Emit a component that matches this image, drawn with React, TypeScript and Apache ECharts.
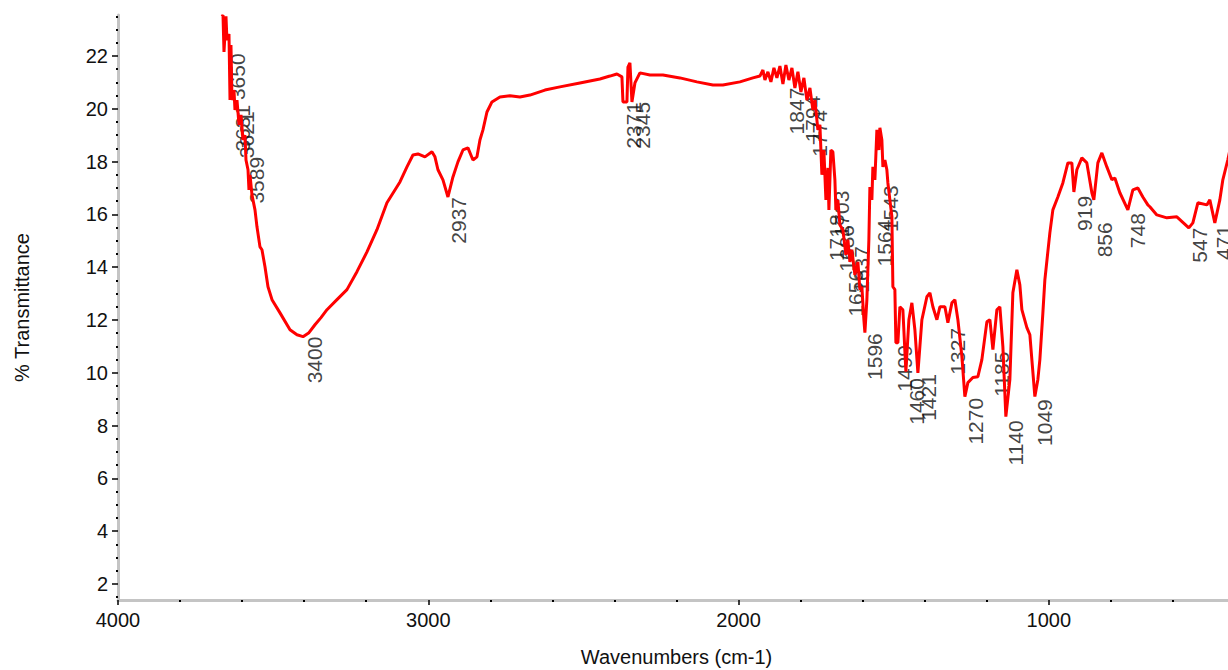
import React, { useEffect, useRef } from "react";
import * as echarts from "echarts";

// Spectrum trace: wavenumbers (cm-1) and % transmittance
const wavenumbers = [
  3665, 3661.6, 3658.4, 3652, 3648.8, 3642.3, 3639, 3635.9, 3632.6, 3626.2, 3623, 3616.5, 3610, 3603.6,
  3597.2, 3590.7, 3587.5, 3581, 3577.9, 3574.6, 3568.2, 3558.5, 3552.1, 3542.4, 3536, 3526.3, 3516.6,
  3503.7, 3477.9, 3445.7, 3423.2, 3403.8, 3384.5, 3365.2, 3345.8, 3326.5, 3294.3, 3262.1, 3229.9, 3197.6,
  3165.4, 3133.2, 3091.3, 3068.7, 3049.4, 3033.3, 3010.7, 2988.2, 2978.5, 2968.8, 2952.7, 2936.6, 2920.5,
  2904.4, 2888.2, 2872.1, 2856, 2843.1, 2833.5, 2823.8, 2810.9, 2794.8, 2769, 2736.8, 2704.6, 2672.3,
  2624, 2575.7, 2511.2, 2446.8, 2414.6, 2392, 2375.9, 2372.6, 2359.7, 2356.5, 2350.1, 2343.6, 2334,
  2317.9, 2285.6, 2243.7, 2189, 2134.2, 2082.6, 2050.4, 1995.6, 1953.7, 1931.2, 1921.5, 1915, 1905.4,
  1895.7, 1886, 1876.4, 1866.7, 1857, 1847.4, 1837.7, 1828, 1818.4, 1808.7, 1799, 1789.4, 1779.7, 1770,
  1760.4, 1753.9, 1744.3, 1737.8, 1731.4, 1725, 1718.5, 1712, 1708.8, 1702.4, 1696, 1689.5, 1686.3,
  1679.9, 1673.4, 1663.7, 1654.1, 1647.6, 1641.2, 1634.8, 1625.1, 1615.4, 1609, 1602.5, 1596.1, 1592.8,
  1586.4, 1580, 1576.7, 1570.3, 1567.1, 1560.6, 1554.2, 1547.7, 1544.5, 1538.1, 1534.8, 1528.4, 1522,
  1518.7, 1512.3, 1505.8, 1502.6, 1496.2, 1492.9, 1486.5, 1480, 1470.4, 1460.7, 1451, 1441.4, 1431.7,
  1422, 1409.1, 1393, 1383.3, 1373.7, 1360.8, 1351.1, 1335, 1325.3, 1312.4, 1302.8, 1293.1, 1280.2,
  1270.6, 1260.9, 1244.8, 1228.7, 1215.8, 1199.7, 1190, 1180.3, 1167.4, 1157.8, 1148.1, 1138.5, 1125.6,
  1115.9, 1103, 1093.4, 1086.9, 1070.8, 1061.1, 1054.7, 1045, 1035.4, 1028.9, 1019.2, 1012.8, 996.7, 987,
  970.9, 954.8, 938.6, 925.8, 919.3, 909.7, 893.6, 877.5, 861.3, 854.9, 842, 829.1, 813, 796.9, 787.2,
  771.1, 745.3, 729.2, 713.1, 697, 680.9, 674.4, 651.9, 619.6, 587.4, 548.8, 535.8, 519.7, 490.7, 481.1,
  465, 448.9, 439.2, 423.1, 410,
];
const transmittance = [
  23.5, 23.55, 22.15, 23.5, 22.6, 22.83, 20.33, 22.42, 20.33, 20.71, 19.96, 20.33, 19.39, 19.77, 18.82,
  19.0, 18.06, 17.69, 16.93, 17.5, 16.74, 16.17, 15.53, 14.77, 14.66, 14.02, 13.26, 12.77, 12.27, 11.63,
  11.44, 11.37, 11.52, 11.82, 12.09, 12.39, 12.77, 13.15, 13.83, 14.58, 15.42, 16.44, 17.23, 17.8, 18.25,
  18.29, 18.18, 18.37, 18.18, 17.69, 17.31, 16.66, 17.42, 17.99, 18.44, 18.52, 18.06, 18.18, 18.82, 19.2,
  19.88, 20.26, 20.45, 20.49, 20.45, 20.52, 20.71, 20.83, 20.98, 21.13, 21.24, 21.32, 21.21, 20.26,
  20.26, 21.58, 21.74, 20.26, 20.98, 21.36, 21.28, 21.28, 21.17, 21.02, 20.9, 20.9, 21.02, 21.17, 21.24,
  21.47, 21.09, 21.4, 21.02, 21.55, 21.17, 21.62, 20.94, 21.66, 21.09, 21.55, 20.79, 21.4, 20.64, 21.17,
  20.33, 20.79, 19.96, 20.33, 19.2, 19.39, 17.5, 18.44, 16.55, 17.76, 16.17, 18.44, 18.37, 17.31, 16.17,
  16.55, 15.6, 15.42, 14.47, 15.04, 14.2, 14.66, 13.71, 14.2, 13.15, 13.26, 12.01, 11.52, 12.77, 15.04,
  17.04, 16.55, 17.8, 17.31, 19.2, 18.44, 19.28, 18.82, 17.8, 18.06, 17.69, 17.19, 16.55, 15.91, 13.26,
  13.15, 11.14, 11.14, 12.5, 12.39, 10.04, 12.01, 12.65, 11.63, 10.0, 12.01, 12.88, 13.03, 12.5, 12.01,
  12.5, 12.5, 11.9, 12.65, 12.77, 12.01, 10.61, 9.1, 9.63, 9.82, 9.85, 10.5, 11.93, 12.01, 10.88, 12.39,
  12.5, 10.99, 8.34, 9.74, 13.03, 13.9, 13.33, 12.39, 11.71, 11.44, 10.5, 9.1, 9.74, 10.5, 12.27, 13.52,
  15.3, 16.17, 16.66, 17.19, 17.95, 17.95, 16.85, 17.69, 18.14, 17.95, 16.82, 16.55, 17.95, 18.33, 17.8,
  17.31, 17.38, 16.82, 16.17, 16.93, 17.0, 16.66, 16.36, 16.29, 15.98, 15.87, 15.91, 15.49, 15.68, 16.44,
  16.36, 16.55, 15.68, 16.55, 17.31, 18.07, 18.8,
];

// Peak picks: label wavenumber and the transmittance where the label starts
const peakWavenumbers = [
  3650, 3631, 3621, 3589, 3400, 2937, 2371, 2345, 1847, 1794, 1774, 1718, 1703, 1686, 1656, 1637, 1596,
  1564, 1543, 1499, 1460, 1421, 1327, 1270, 1185, 1140, 1049, 919, 856, 748, 547, 471,
];
const peakTransmittance = [
  22.1, 20.15, 19.9, 18.18, 11.37, 16.66, 20.26, 20.26, 20.8, 20.5, 19.95, 16.0, 16.9, 15.6, 13.9, 14.8,
  11.5, 15.8, 17.1, 11.05, 9.8, 9.95, 11.7, 9.05, 10.8, 8.2, 9.0, 16.7, 15.7, 16.05, 15.5, 15.6,
];

const yMajorTicks = [2, 4, 6, 8, 10, 12, 14, 16, 18, 20, 22];
const yMinorTicks = [1.5, 2.5, 3, 3.5, 4.5, 5, 5.5, 6.5, 7, 7.5, 8.5, 9, 9.5, 10.5, 11, 11.5, 12.5, 13, 13.5,
  14.5, 15, 15.5, 16.5, 17, 17.5, 18.5, 19, 19.5, 20.5, 21, 21.5, 22.5, 23, 23.5];
const xMajorTicks = [1000, 2000, 3000, 4000];
const xMinorTicks = [400, 600, 800, 1200, 1400, 1600, 1800, 2200, 2400, 2600, 2800, 3200, 3400, 3600, 3800];

const FONT = "'Liberation Sans', Arial, sans-serif";
const AXIS_GRAY = "#c4c4c4";

export default function App() {
  const ref = useRef<HTMLDivElement>(null);
  useEffect(() => {
    if (!ref.current) return;
    const chart = echarts.init(ref.current, undefined, { renderer: "svg" });
    const X_MIN = 400, X_MAX = 4000, Y_MIN = 1.394, Y_MAX = 23.553;
    const plain = (v: number) => String(v);
    const baseX = {
      type: "value" as const,
      inverse: true,
      min: X_MIN,
      max: X_MAX,
      position: "bottom" as const,
      splitLine: { show: false },
    };
    const baseY = {
      type: "value" as const,
      min: Y_MIN,
      max: Y_MAX,
      position: "left" as const,
      splitLine: { show: false },
    };
    chart.setOption({
      animation: false,
      backgroundColor: "#ffffff",
      grid: { left: 118, right: -7, top: 15, bottom: 70, containLabel: false, outerBoundsMode: "none" },
      xAxis: [
        {
          ...baseX,
          name: "Wavenumbers (cm-1)",
          nameLocation: "middle",
          nameGap: 47,
          nameTextStyle: { fontFamily: FONT, fontSize: 20, color: "#111" },
          axisLine: { show: true, lineStyle: { color: AXIS_GRAY, width: 3 } },
          axisTick: { show: true, customValues: xMajorTicks, length: 5, lineStyle: { color: "#000", width: 1.5 } },
          axisLabel: {
            show: true,
            customValues: xMajorTicks,
            formatter: plain,
            fontFamily: FONT,
            fontSize: 20,
            color: "#111",
            margin: 10,
          },
          z: 3,
        },
        {
          ...baseX,
          axisLine: { show: false },
          axisTick: { show: true, customValues: xMinorTicks, length: 2, lineStyle: { color: "#000", width: 2 } },
          axisLabel: { show: false },
          z: 3,
        },
      ],
      yAxis: [
        {
          ...baseY,
          name: "% Transmittance",
          nameLocation: "middle",
          nameGap: 86,
          nameTextStyle: { fontFamily: FONT, fontSize: 20, color: "#111" },
          axisLine: { show: true, lineStyle: { color: AXIS_GRAY, width: 3 } },
          axisTick: { show: true, customValues: yMajorTicks, length: 6, lineStyle: { color: "#000", width: 1.5 } },
          axisLabel: {
            show: true,
            customValues: yMajorTicks,
            formatter: plain,
            fontFamily: FONT,
            fontSize: 20,
            color: "#111",
            margin: 10,
          },
          z: 3,
        },
        {
          ...baseY,
          axisLine: { show: false },
          axisTick: { show: true, customValues: yMinorTicks, length: 2, lineStyle: { color: "#000", width: 2 } },
          axisLabel: { show: false },
          z: 3,
        },
      ],
      series: [
        {
          type: "scatter",
          xAxisIndex: 0,
          yAxisIndex: 0,
          z: 1,
          symbol: "circle",
          symbolSize: 1,
          itemStyle: { color: "rgba(0,0,0,0)" },
          silent: true,
          data: peakWavenumbers.map((w, i) => [w, peakTransmittance[i]]),
          label: {
            show: true,
            position: "inside",
            formatter: (p: any) => String(p.value[0]),
            rotate: 90,
            align: "right",
            verticalAlign: "top",
            offset: [6, 6],
            fontFamily: FONT,
            fontSize: 21,
            color: "#111",
          },
          labelLayout: { hideOverlap: false },
        },
        {
          type: "line",
          xAxisIndex: 0,
          yAxisIndex: 0,
          z: 2,
          showSymbol: false,
          symbol: "none",
          data: wavenumbers.map((w, i) => [w, transmittance[i]]),
          lineStyle: { color: "#ff0000", width: 3 },
          clip: true,
        },
      ],
    });
    return () => chart.dispose();
  }, []);
  return (
    <div
      ref={ref}
      style={{ position: "absolute", left: 0, top: 0, width: 1228, height: 670, overflow: "hidden" }}
    />
  );
}
